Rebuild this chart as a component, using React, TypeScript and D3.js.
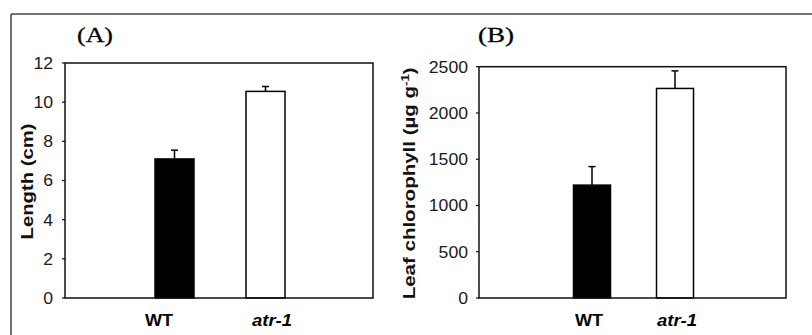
import * as d3 from 'd3'

// categories + values
const categories = ['WT', 'atr-1']

const lengthMeans = [7.1, 10.55] // cm
const lengthErrors = [0.45, 0.25]
const lengthTicks = [0, 2, 4, 6, 8, 10, 12]

const chlMeans = [1220, 2265] // µg g-1
const chlErrors = [200, 190]
const chlTicks = [0, 500, 1000, 1500, 2000, 2500]

const SANS = '"Liberation Sans", Arial, sans-serif'
const SERIF = '"Liberation Serif", "Times New Roman", serif'
const fills = ['#000', '#fff']

interface PanelProps {
  tag: string
  means: number[]
  errors: number[]
  ticks: number[]
  yMax: number
  box: { l: number; r: number; t: number; b: number }
  barAt: [number, number] // bar centre range
  labelAt: [number, number] // category label centre range
  barW: number
  tickRight: number
  titleX: number
  titleLen: number
  tagX: number
  title: React.ReactNode
}

function Panel(p: PanelProps) {
  const y = d3.scaleLinear().domain([0, p.yMax]).range([p.box.b, p.box.t])
  const xBar = d3.scalePoint<string>().domain(categories).range(p.barAt)
  const xLab = d3.scalePoint<string>().domain(categories).range(p.labelAt)
  const midY = (p.box.t + p.box.b) / 2 + 1
  return (
    <g>
      <text x={p.tagX} y={42} fontFamily={SERIF} fontSize={21} fill="#000" stroke="#000" strokeWidth={0.3}
        textLength={36} lengthAdjust="spacingAndGlyphs">{p.tag}</text>

      {p.ticks.map((t) => (
        <g key={t}>
          <line x1={p.box.l - 3} x2={p.box.l} y1={y(t)} y2={y(t)} stroke="#111" strokeWidth={1.2} />
          <text x={p.tickRight} y={y(t)} dy="0.37em" textAnchor="end" fontFamily={SANS} fontSize={16} fill="#1a1a1a"
            textLength={String(t).length * 9.8} lengthAdjust="spacingAndGlyphs">{t}</text>
        </g>
      ))}

      {categories.map((c, i) => {
        const cx = xBar(c) as number
        return (
          <g key={c}>
            <line x1={cx} x2={cx} y1={y(p.means[i])} y2={y(p.means[i] + p.errors[i])} stroke="#000" strokeWidth={1.5} />
            <line x1={cx - 3.5} x2={cx + 3.5} y1={y(p.means[i] + p.errors[i])} y2={y(p.means[i] + p.errors[i])} stroke="#000" strokeWidth={1.5} />
            <rect x={cx - p.barW / 2} y={y(p.means[i])} width={p.barW} height={p.box.b - y(p.means[i])}
              fill={fills[i]} stroke="#000" strokeWidth={1.5} />
            <text x={xLab(c)} y={326} textAnchor="middle" fontFamily={SANS} fontWeight="bold" fontSize={16}
              fontStyle={i === 1 ? 'italic' : 'normal'} fill="#000"
              textLength={i === 1 ? 40 : 28} lengthAdjust="spacingAndGlyphs">{c}</text>
          </g>
        )
      })}

      <rect x={p.box.l} y={p.box.t} width={p.box.r - p.box.l} height={p.box.b - p.box.t} fill="none" stroke="#111" strokeWidth={1.5} />

      <text transform={`translate(${p.titleX},${midY}) rotate(-90)`} textAnchor="middle" fontFamily={SANS} fontWeight="bold"
        fontSize={17} fill="#111" textLength={p.titleLen} lengthAdjust="spacingAndGlyphs">{p.title}</text>
    </g>
  )
}

export default function App() {
  return (
    <svg width={812} height={335} style={{ position: 'fixed', left: 0, top: 0, background: '#fff' }}>
      <rect width={812} height={335} fill="#fff" />
      {/* outer figure frame */}
      <line x1={11} x2={11} y1={14} y2={335} stroke="#444" strokeWidth={1.5} />
      <line x1={11} x2={812} y1={14} y2={14} stroke="#444" strokeWidth={1.5} />

      <Panel
        tag="(A)"
        means={lengthMeans}
        errors={lengthErrors}
        ticks={lengthTicks}
        yMax={12}
        box={{ l: 65, r: 373, t: 63, b: 298 }}
        barAt={[174.5, 265.5]}
        labelAt={[159, 272]}
        barW={39}
        tickRight={53}
        titleX={33}
        titleLen={116}
        tagX={77}
        title="Length (cm)"
      />
      <Panel
        tag="(B)"
        means={chlMeans}
        errors={chlErrors}
        ticks={chlTicks}
        yMax={2500}
        box={{ l: 479, r: 786, t: 66.7, b: 298 }}
        barAt={[592, 675]}
        labelAt={[589, 677]}
        barW={37}
        tickRight={468}
        titleX={415}
        titleLen={232}
        tagX={478}
        title={<>Leaf chlorophyll (µg g<tspan dy={-6} fontSize={11}>-1</tspan><tspan dy={6}>)</tspan></>}
      />
    </svg>
  )
}
